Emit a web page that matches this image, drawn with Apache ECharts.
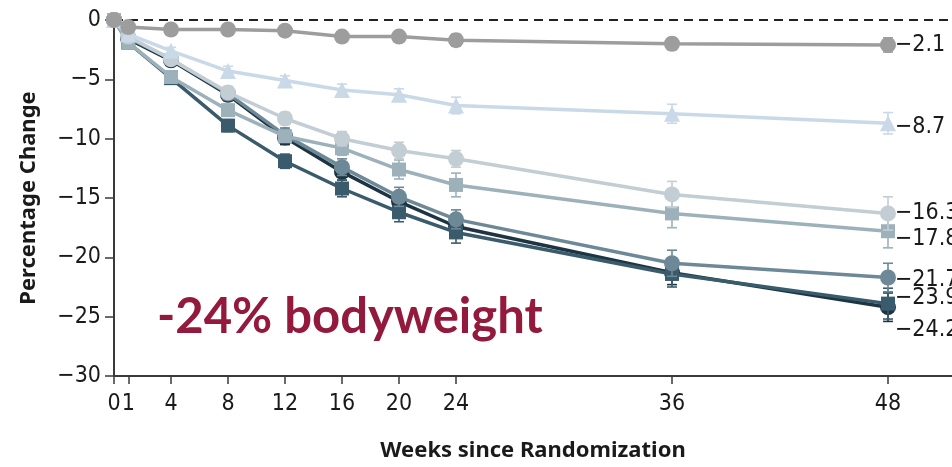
<!DOCTYPE html>
<html><head><meta charset="utf-8">
<script src="https://cdn.jsdelivr.net/npm/echarts@6/dist/echarts.min.js"></script>
<style>html,body{margin:0;padding:0;background:#fff}#c{width:952px;height:467px}</style>
</head><body><div id="c"></div>
<script>
// ---- data ----
const weeks = [0, 1, 4, 8, 12, 16, 20, 24, 36, 48];
const tickWeeks = [0, 1, 4, 8, 12, 16, 20, 24, 36, 48];
const yTicks = [0, -5, -10, -15, -20, -25, -30];
const placebo      = [0, -0.6, -0.8, -0.8, -0.9, -1.4, -1.4, -1.7, -2.0, -2.1];
const dose1        = [0, -1.2, -2.6, -4.3, -5.1, -5.9, -6.3, -7.2, -7.9, -8.7];
const dose4init2   = [0, -1.4, -3.3, -6.1, -8.3, -10.0, -11.0, -11.7, -14.7, -16.3];
const dose4        = [0, -1.9, -4.8, -7.6, -9.8, -10.8, -12.6, -13.9, -16.3, -17.8];
const dose8init2   = [0, -1.5, -3.3, -6.2, -9.7, -12.4, -14.9, -16.8, -20.5, -21.7];
const dose12init2  = [0, -1.6, -3.4, -6.3, -9.9, -12.8, -15.3, -17.4, -21.3, -24.2];
const dose8init4   = [0, -1.9, -4.9, -8.9, -11.9, -14.2, -16.2, -17.9, -21.4, -23.9];
const errPlacebo     = [0, 0.2, 0.2, 0.3, 0.3, 0.4, 0.4, 0.5, 0.5, 0.6];
const errDose1       = [0, 0.3, 0.3, 0.4, 0.4, 0.5, 0.5, 0.7, 0.8, 0.9];
const errDose4init2  = [0, 0.3, 0.4, 0.5, 0.5, 0.6, 0.7, 0.7, 1.1, 1.4];
const errDose4       = [0, 0.3, 0.4, 0.5, 0.5, 0.6, 0.8, 1.0, 1.2, 1.4];
const errDose8init2  = [0, 0.3, 0.4, 0.5, 0.6, 0.7, 0.8, 0.8, 1.1, 1.2];
const errDose12init2 = [0, 0.3, 0.4, 0.5, 0.6, 0.7, 0.8, 0.9, 1.0, 1.2];
const errDose8init4  = [0, 0.3, 0.4, 0.5, 0.6, 0.7, 0.8, 0.9, 1.1, 1.3];
const endLabels = ['\u22122.1', '\u22128.7', '\u221216.3', '\u221217.8', '\u221221.7', '\u221224.2', '\u221223.9'];
const annotation = '-24% bodyweight';
const xTitle = 'Weeks since Randomization';
const yTitle = 'Percentage Change';

// ---- axis transform: weeks after 24 are drawn wider ----
const STRETCH = 18 / 14.25;
function xPos(w) { return w <= 24 ? w : 24 + (w - 24) * STRETCH; }
function minus(v) { return v < 0 ? '\u2212' + Math.abs(v) : String(v); }

const FONT = "'Liberation Sans Narrow','DejaVu Sans Condensed','Noto Sans',sans-serif";
const TITLE_FONT = "'Noto Sans',sans-serif";

const defs = [
  {name:'Placebo', vals:placebo, err:errPlacebo, color:'#9d9d9d', sym:'circle', lab:endLabels[0], dy:0},
  {name:'1 mg', vals:dose1, err:errDose1, color:'#c9d9e8', sym:'triangle', lab:endLabels[1], dy:4},
  {name:'4 mg (2 mg)', vals:dose4init2, err:errDose4init2, color:'#c3cdd4', sym:'circle', lab:endLabels[2], dy:0},
  {name:'4 mg', vals:dose4, err:errDose4, color:'#9db1bb', sym:'rect', lab:endLabels[3], dy:8},
  {name:'8 mg (2 mg)', vals:dose8init2, err:errDose8init2, color:'#6d8896', sym:'circle', lab:endLabels[4], dy:3},
  {name:'12 mg (2 mg)', vals:dose12init2, err:errDose12init2, color:'#1d3543', sym:'circle', lab:endLabels[5], dy:23},
  {name:'8 mg (4 mg)', vals:dose8init4, err:errDose8init4, color:'#3a5b6c', sym:'rect', lab:endLabels[6], dy:-6}
];
const drawOrder = [5, 6, 4, 3, 2, 1, 0];

const series = [];
drawOrder.forEach((i, k) => {
  const d = defs[i];
  const data = weeks.map((w, j) => [xPos(w), d.vals[j]]);
  // error bars
  series.push({
    type: 'custom', name: d.name + ' err', z: 2 + k * 2, silent: true,
    data: weeks.map((w, j) => [xPos(w), d.vals[j] - d.err[j], d.vals[j] + d.err[j]]),
    renderItem: function (params, api) {
      const x = api.coord([api.value(0), 0])[0];
      const lo = api.coord([api.value(0), api.value(1)])[1];
      const hi = api.coord([api.value(0), api.value(2)])[1];
      const cw = 5;
      return {type: 'group', children: [
        {type:'line', shape:{x1:x, y1:lo, x2:x, y2:hi}, style:{stroke:d.color, lineWidth:1.6}},
        {type:'line', shape:{x1:x-cw, y1:lo, x2:x+cw, y2:lo}, style:{stroke:d.color, lineWidth:1.6}},
        {type:'line', shape:{x1:x-cw, y1:hi, x2:x+cw, y2:hi}, style:{stroke:d.color, lineWidth:1.6}}
      ]};
    }
  });
  series.push({
    type: 'line', name: d.name, z: 3 + k * 2, data: data,
    symbol: d.sym, symbolSize: d.sym === 'triangle' ? 16 : (d.sym === 'rect' ? 14 : 16),
    showAllSymbol: true,
    lineStyle: {color: d.color, width: 3.5},
    itemStyle: {color: d.color, borderWidth: 0},
    emphasis: {disabled: true},
    label: {show: false},
    endLabel: {show: true, formatter: d.lab, color: '#1a1a1a', fontSize: 23,
      fontFamily: FONT, distance: 7, offset: [0, d.dy]},
    markLine: i === 0 ? {silent: true, symbol: 'none', label: {show: false},
      lineStyle: {color: '#222', type: [9, 6], width: 1.8},
      data: [{yAxis: 0}]} : undefined
  });
});

const chart = echarts.init(document.getElementById('c'), null, {renderer: 'canvas'});
chart.setOption({
  animation: false,
  backgroundColor: '#fff',
  grid: {left: 114, right: 0, top: 20, bottom: 87, containLabel: false},
  xAxis: {
    type: 'value', min: 0, max: (952 - 114) / 14.25,
    axisLine: {show: true, onZero: false, lineStyle: {color: '#3a3a3a', width: 2}},
    axisTick: {show: true, length: 8, lineStyle: {color: '#3a3a3a', width: 1.5},
      customValues: tickWeeks.map(xPos)},
    axisLabel: {show: true, color: '#1a1a1a', fontSize: 23, fontFamily: FONT, margin: 17,
      customValues: tickWeeks.map(xPos),
      formatter: function (v) {
        const idx = tickWeeks.map(xPos).findIndex(p => Math.abs(p - v) < 1e-6);
        return idx >= 0 ? String(tickWeeks[idx]) : '';
      }},
    splitLine: {show: false},
    name: xTitle, nameLocation: 'middle', nameGap: 64,
    nameTextStyle: {fontSize: 22, fontWeight: 'bold', color: '#1a1a1a', fontFamily: TITLE_FONT}
  },
  yAxis: {
    type: 'value', min: -30, max: 0, interval: 5,
    axisLine: {show: true, lineStyle: {color: '#3a3a3a', width: 2}},
    axisTick: {show: true, length: 9, lineStyle: {color: '#3a3a3a', width: 1.5}},
    axisLabel: {color: '#1a1a1a', fontSize: 23, fontFamily: FONT, margin: 13,
      formatter: minus},
    splitLine: {show: false},
    name: yTitle, nameLocation: 'middle', nameGap: 74, nameRotate: 90,
    nameTextStyle: {fontSize: 22, fontWeight: 'bold', color: '#1a1a1a', fontFamily: TITLE_FONT}
  },
  graphic: [{
    type: 'text', left: 157, top: 293, z: 100,
    style: {text: annotation, fill: '#931a3d', font: "bold 49px Lato, 'Open Sans', sans-serif"}
  }],
  series: series
});
</script></body></html>
